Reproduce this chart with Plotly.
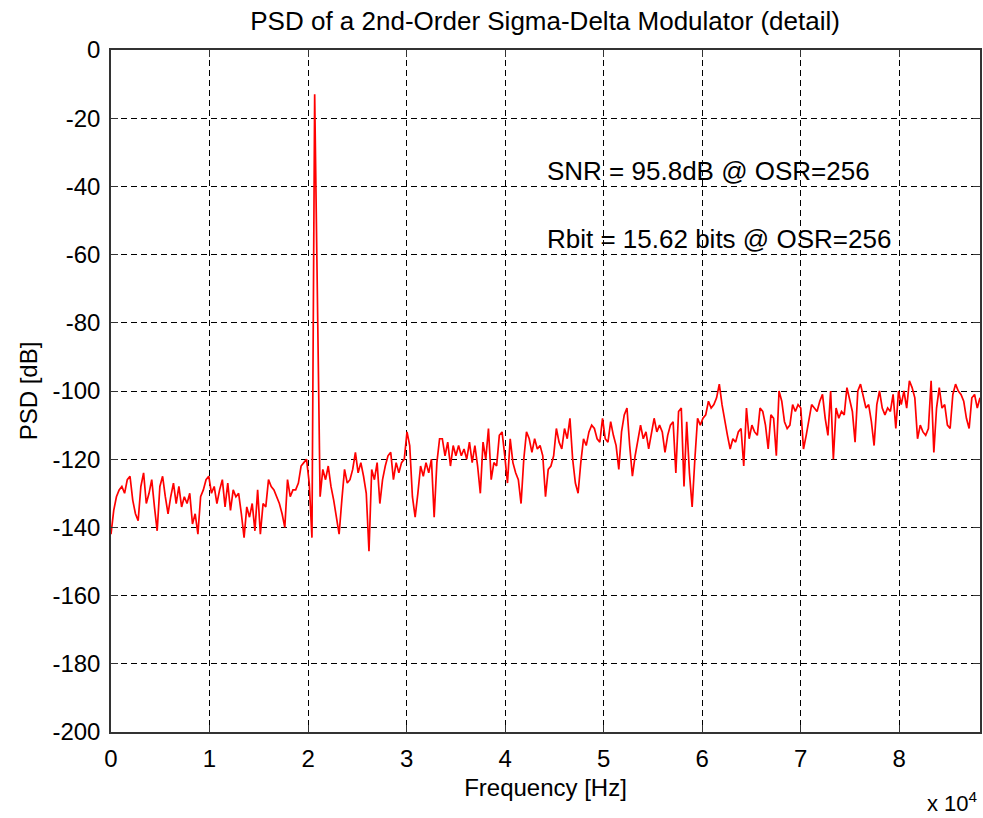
import plotly.graph_objects as go

# ---- data ----
bin_hz = 275.625          # FFT bin spacing (88200 Hz / 320 bins)
psd_db = [
    -142, -135, -131, -129, -128, -130, -126, -125, -132, -136,
    -138, -128, -124, -133, -130, -126, -134, -141, -128, -125,
    -131, -136, -131, -127, -133, -128, -134, -131, -133, -130,
    -139, -136, -142, -131, -129, -126, -125, -130, -128, -133,
    -129, -126, -134, -127, -135, -129, -131, -130, -136, -143,
    -134, -137, -133, -141, -129, -142, -133, -134, -126, -128,
    -129, -131, -133, -136, -140, -126, -131, -129, -129, -127,
    -122, -121, -120, -127, -143, -13, -74, -131, -123, -126,
    -122, -128, -132, -137, -142, -132, -123, -127, -126, -123,
    -118, -124, -121, -125, -130, -147, -123, -126, -121, -133,
    -126, -122, -119, -118, -126, -121, -124, -121, -120, -112,
    -116, -131, -137, -130, -122, -125, -121, -124, -120, -137,
    -121, -114, -114, -119, -115, -122, -116, -119, -116, -119,
    -117, -120, -115, -121, -116, -122, -130, -115, -120, -111,
    -126, -121, -122, -113, -112, -119, -127, -114, -121, -124,
    -126, -133, -120, -112, -114, -118, -114, -117, -116, -119,
    -131, -123, -122, -119, -111, -115, -117, -111, -114, -108,
    -120, -127, -130, -121, -114, -116, -112, -110, -111, -114,
    -115, -108, -114, -115, -109, -113, -116, -123, -112, -107,
    -105, -116, -125, -119, -114, -110, -114, -112, -117, -112,
    -108, -112, -110, -112, -118, -113, -110, -109, -124, -106,
    -105, -128, -109, -124, -134, -120, -108, -110, -108, -107,
    -103, -105, -104, -102, -98, -104, -109, -113, -117, -114,
    -115, -112, -111, -122, -105, -114, -110, -112, -113, -105,
    -106, -110, -117, -107, -108, -119, -100, -103, -109, -111,
    -110, -104, -106, -104, -105, -117, -113, -109, -104, -105,
    -106, -103, -101, -108, -113, -100, -120, -105, -108, -106,
    -107, -99, -103, -106, -115, -100, -98, -102, -105, -104,
    -109, -116, -104, -100, -105, -107, -105, -106, -101, -111,
    -100, -104, -100, -105, -97, -99, -102, -114, -110, -112,
    -113, -111, -97, -118, -105, -99, -105, -104, -110, -111,
    -101, -98, -100, -101, -103, -108, -111, -102, -101, -105,
    -102,
]
freq_hz = [i * bin_hz for i in range(len(psd_db))]

x_tick_vals = [0, 10000, 20000, 30000, 40000, 50000, 60000, 70000, 80000]
x_tick_text = ["0", "1", "2", "3", "4", "5", "6", "7", "8"]
y_tick_vals = [0, -20, -40, -60, -80, -100, -120, -140, -160, -180, -200]
y_tick_text = ["0", "-20", "-40", "-60", "-80", "-100", "-120", "-140", "-160", "-180", "-200"]
x_max = 88200

title_text = "PSD of a 2nd-Order Sigma-Delta Modulator (detail)"
snr_text = "SNR = 95.8dB @ OSR=256"
rbit_text = "Rbit = 15.62 bits @ OSR=256"
snr_pos = (44050, -35.5)
rbit_pos = (44050, -55.5)

FONT = "Liberation Sans, Arial, sans-serif"
AX = "#333333"

fig = go.Figure()
fig.add_trace(go.Scatter(
    x=freq_hz, y=psd_db, mode="lines",
    line=dict(color="#ff0000", width=1.7),
    showlegend=False, hoverinfo="skip",
))

common_axis = dict(
    showline=True, linecolor=AX, linewidth=1.5, mirror="ticks",
    ticks="inside", ticklen=7, tickcolor=AX, tickwidth=1,
    showgrid=True, gridcolor="black", gridwidth=1, griddash="6px,4px",
    zeroline=False,
    tickfont=dict(family=FONT, size=24, color="black"),
)

fig.update_xaxes(
    range=[0, x_max], tickvals=x_tick_vals, ticktext=x_tick_text,
    title=dict(text="Frequency [Hz]", font=dict(family=FONT, size=24, color="black"), standoff=9),
    ticklabelstandoff=4,
    **common_axis,
)
fig.update_yaxes(
    range=[-200, 0], tickvals=y_tick_vals, ticktext=y_tick_text,
    title=dict(text="PSD [dB]", font=dict(family=FONT, size=24, color="black"), standoff=8),
    ticklabelstandoff=4,
    **common_axis,
)

fig.add_annotation(x=snr_pos[0], y=snr_pos[1], text=snr_text, showarrow=False,
                   xanchor="left", yanchor="middle",
                   font=dict(family=FONT, size=26, color="black"))
fig.add_annotation(x=rbit_pos[0], y=rbit_pos[1], text=rbit_text, showarrow=False,
                   xanchor="left", yanchor="middle",
                   font=dict(family=FONT, size=26, color="black"))
fig.add_annotation(xref="paper", yref="paper", x=1.0, y=-0.102,
                   text="x 10<sup>4</sup>", showarrow=False,
                   xanchor="right", yanchor="middle",
                   font=dict(family=FONT, size=22, color="black"))

fig.update_layout(
    width=983, height=818,
    margin=dict(l=111, r=3, t=50, b=86, pad=0, autoexpand=False),
    paper_bgcolor="white", plot_bgcolor="white",
    title=dict(text=title_text, x=0.5545, xanchor="center",
               y=1 - 21 / 818, yanchor="middle", yref="container",
               font=dict(family=FONT, size=26, color="black")),
)

fig.write_html("out.html")
